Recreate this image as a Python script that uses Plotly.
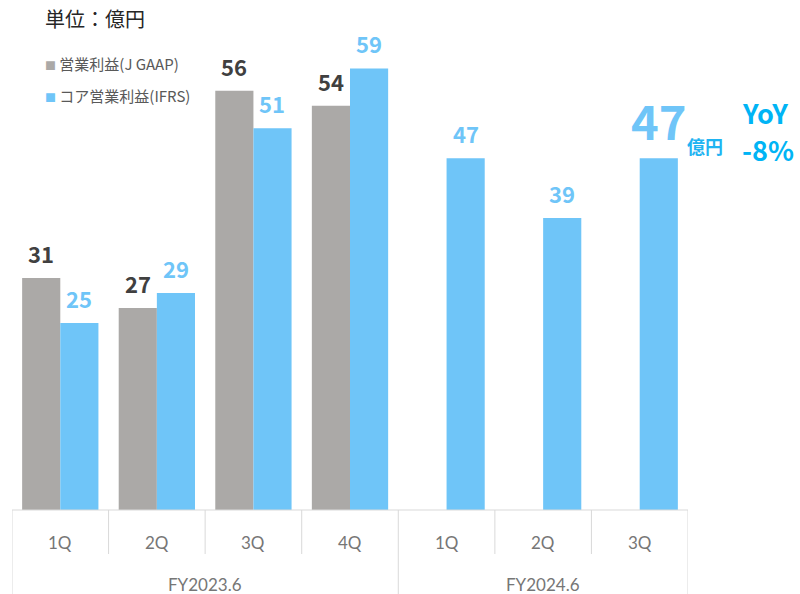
import plotly.graph_objects as go

# data (億円)
periods = ["FY2023.6"] * 4 + ["FY2024.6"] * 3
quarters = ["1Q", "2Q", "3Q", "4Q", "1Q", "2Q", "3Q"]
jgaap = [31, 27, 56, 54, None, None, None]
core_ifrs = [25, 29, 51, 59, 47, 39, 47]
group_labels = ["FY2023.6", "FY2024.6"]

GRAY = "#ABA9A7"
BLUE = "#6FC5F8"
CYAN = "#1FB4F2"
LINE = "#D9D9D9"
JP = "Noto Sans CJK JP"

keys = [f"{p} {q}" for p, q in zip(periods, quarters)]

fig = go.Figure()
fig.add_trace(go.Bar(x=keys, y=jgaap, marker=dict(color=GRAY, line_width=0),
                     name="営業利益(J GAAP)"))
fig.add_trace(go.Bar(x=keys, y=core_ifrs, marker=dict(color=BLUE, line_width=0),
                     name="コア営業利益(IFRS)"))

ann = []
# value labels
for i, k in enumerate(keys):
    if jgaap[i] is not None:
        ann.append(dict(x=k, y=jgaap[i], text=f"<b>{jgaap[i]}</b>", showarrow=False,
                        xshift=-19, yshift=7, yanchor="bottom",
                        font=dict(family=JP, size=22, color="#404040")))
    big = i == len(keys) - 1
    ann.append(dict(x=k, y=core_ifrs[i], text=f"<b>{core_ifrs[i]}</b>", showarrow=False,
                    xshift=19, yshift=2 if big else 7, yanchor="bottom",
                    font=dict(family=JP, size=47 if big else 22, color=BLUE)))

# the 億円 unit + YoY callout next to the latest quarter
ann.append(dict(x=keys[-1], y=core_ifrs[-1], text="<b>億円</b>", showarrow=False,
                xanchor="left", yanchor="middle", xshift=45, yshift=12,
                font=dict(family=JP, size=18, color=CYAN)))
for txt, dy in [("YoY", -96), ("-8%", -133)]:
    ann.append(dict(x=1.0, y=1, xref="paper", yref="paper", text=f"<b>{txt}</b>",
                    showarrow=False, xanchor="left", yanchor="middle", xshift=52, yshift=dy,
                    font=dict(family=JP, size=27, color="#00B4F5")))

# category table under the bars
shapes = [dict(type="line", xref="x", yref="paper", x0=-0.5, x1=len(keys) - 0.5, y0=0, y1=0,
               line=dict(color=LINE, width=1))]
for i in range(len(keys) + 1):
    xpos = i - 0.5
    is_group_edge = i in (0, len(keys)) or periods[i - 1] != periods[i]
    shapes.append(dict(type="line", xref="x", yref="paper", ysizemode="pixel", yanchor=0,
                       x0=xpos, x1=xpos, y0=0, y1=-90 if is_group_edge else -44,
                       line=dict(color=LINE, width=1)))

for i, q in enumerate(quarters):
    ann.append(dict(x=keys[i], y=0, yref="paper", text=q, showarrow=False, yshift=-32,
                    yanchor="middle", font=dict(family="Lato", size=17, color="#767676")))
for g in group_labels:
    idx = [i for i, p in enumerate(periods) if p == g]
    ann.append(dict(x=(idx[0] + idx[-1]) / 2, y=0, yref="paper", text=g, showarrow=False,
                    yshift=-74, yanchor="middle",
                    font=dict(family="Lato", size=17, color="#767676")))

# unit + legend
ann.append(dict(x=0, y=1, xref="paper", yref="paper", text="単位：億円", showarrow=False,
                xanchor="left", yanchor="middle", xshift=31, yshift=-2,
                font=dict(family=JP, size=20, color="#262626")))
for j, (nm, col) in enumerate([("営業利益(J GAAP)", GRAY), ("コア営業利益(IFRS)", BLUE)]):
    ann.append(dict(x=0, y=1, xref="paper", yref="paper",
                    text=f"<span style='color:{col};font-size:11px'>■</span> {nm}",
                    showarrow=False, xanchor="left", yanchor="middle",
                    xshift=31, yshift=-47 - 32 * j,
                    font=dict(family=JP, size=15, color="#595959")))

fig.update_layout(
    width=800, height=594,
    margin=dict(l=12, r=112, t=16, b=84),
    plot_bgcolor="white", paper_bgcolor="white",
    barmode="group", bargap=0.21, bargroupgap=0,
    showlegend=False,
    xaxis=dict(range=[-0.5, len(keys) - 0.5], autorange=False, showticklabels=False,
               showgrid=False, zeroline=False, showline=False, ticks=""),
    yaxis=dict(range=[0, 66], visible=False, showgrid=False),
    shapes=shapes, annotations=ann,
)

# page body margin would push the 800x594 figure off the window
fig.write_html("out.html", config={"displayModeBar": False},
               post_script="document.body.style.margin='0';")
